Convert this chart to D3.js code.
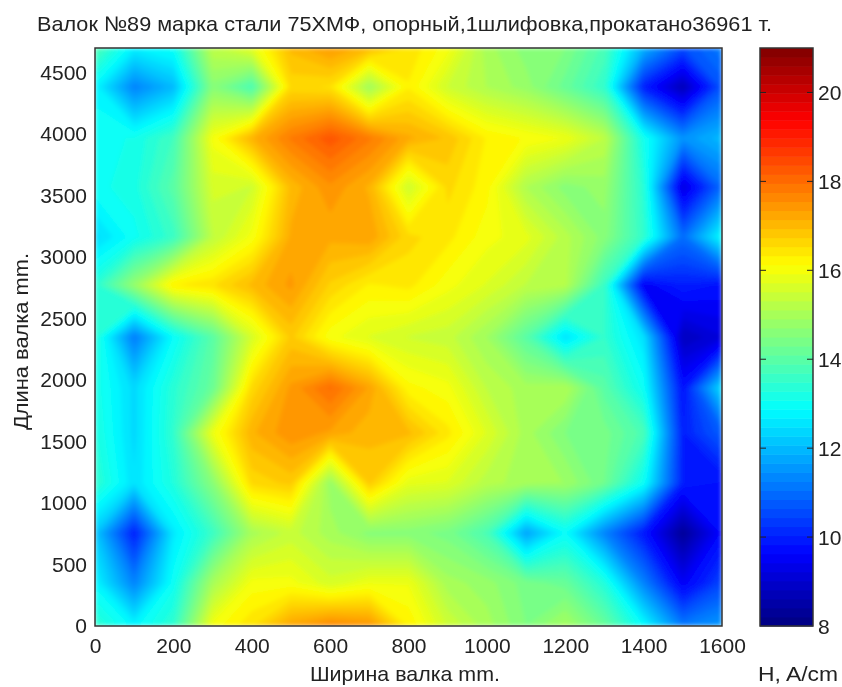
<!DOCTYPE html>
<html>
<head>
<meta charset="utf-8">
<script src="https://cdn.jsdelivr.net/npm/d3@7"></script>
<style>
  body { margin: 0; background: #fff; }
  svg { display: block; filter: blur(0.4px); }
  text { font-family: "Liberation Sans", Arial, sans-serif; fill: #222; }
</style>
</head>
<body>
<div id="chart-area"><svg></svg></div>
<script>
const chartSize = { width: 842, height: 687 };
const plot = { left: 95, right: 722, top: 48, bottom: 626 };
const bar = { left: 760, right: 813 };
const fontSize = 21;

const titleText = 'Валок №89 марка стали 75ХМФ, опорный,1шлифовка,прокатано36961 т.';
const xLabel = 'Ширина валка mm.';
const yLabel = 'Длина валка mm.';
const barLabel = 'H, A/cm';

const widths = [0, 100, 200, 300, 400, 500, 600, 700, 800, 900, 1000, 1100, 1200, 1300, 1400, 1500, 1600];
const lengths = [0, 350, 756, 1163, 1569, 1935, 2350, 2772, 3163, 3570, 3967, 4382, 4700];
const xTicks = [0, 200, 400, 600, 800, 1000, 1200, 1400, 1600];
const yTicks = [0, 500, 1000, 1500, 2000, 2500, 3000, 3500, 4000, 4500];
const barTicks = [8, 10, 12, 14, 16, 18, 20];

// H values, one row per length, bottom row first
const row0 = [13.5, 12.8, 13.5, 16, 16.5, 17.3, 17.7, 17.5, 16.3, 15.5, 15, 14.5, 15, 14.2, 12.9, 11.2, 11.6];
const row1 = [12.8, 11.3, 13, 15, 16, 16, 15.6, 15.9, 15.9, 15, 14.8, 14.4, 14.2, 13.3, 11.3, 9.5, 10.5];
const row2 = [12.2, 10, 12.6, 13.6, 15, 15.4, 15, 14.6, 14.6, 14.4, 13.8, 11.7, 12.9, 11.3, 9.9, 8.3, 9.7];
const row3 = [13.5, 12.5, 13.3, 14.6, 16.6, 16.8, 14.8, 16.8, 15.8, 15.7, 15.2, 15, 14.9, 14.3, 13, 10, 9.8];
const row4 = [13.3, 12.4, 13.5, 15.9, 17.1, 17.5, 17.3, 17, 17, 16.4, 15.7, 15, 14.5, 14.4, 13.8, 10, 10.8];
const row5 = [13.2, 12.4, 13.4, 14.2, 16.6, 17.4, 18, 17.3, 16.2, 16, 15.3, 15, 15.1, 14, 13, 9.8, 12.5];
const row6 = [13.4, 11.2, 12.9, 14, 15.6, 16.8, 16, 15.7, 15.5, 15.4, 14.9, 14, 12.5, 13.5, 12.5, 8.8, 9.2];
const row7 = [13.4, 14.8, 16.3, 16.5, 17, 17.4, 16.7, 16.3, 16.4, 16, 15.7, 15.3, 15.2, 13.6, 9.5, 10, 9.8];
const row8 = [12.4, 13, 13.6, 15.3, 16, 17.2, 17.2, 17.3, 16.6, 16.4, 16, 15.8, 15.2, 14.6, 13.5, 11, 12.9];
const row9 = [13, 13.2, 14, 15.6, 15.5, 17, 17.5, 17.1, 15.5, 16.6, 16.2, 15.1, 14.6, 14.8, 13.4, 9.2, 11];
const row10 = [13, 13.1, 13.7, 16, 17.1, 17.8, 18.3, 17.8, 17.2, 16.9, 16.3, 16.1, 15.9, 15.3, 13.1, 11.5, 12];
const row11 = [12.8, 11.3, 12, 14.6, 13.8, 16.6, 16.5, 14.9, 16.3, 15.5, 15.1, 14.8, 14.2, 13.5, 10, 8.7, 10.7];
const row12 = [13.9, 12.7, 13, 15.3, 15.8, 17, 17.4, 17, 16.5, 16, 15, 14.6, 14.5, 13.8, 11.9, 10.6, 11.2];
const rows = [row0, row1, row2, row3, row4, row5, row6, row7, row8, row9, row10, row11, row12];

const hMin = 8;
const hMax = 21;
const levelCount = 64;

// matlab jet, 64 steps
const jet = (i) => {
  const t = (i + 0.5) / levelCount;
  const ramp = (c) => Math.max(0, Math.min(1, 1.5 - Math.abs(4 * t - c)));
  return d3.rgb(255 * ramp(3), 255 * ramp(2), 255 * ramp(1)).formatHex();
};

const drawHeatmap = (svg, x, y) => {
  const levels = d3.range(levelCount);
  const thresholds = levels.map(i => hMin + i * (hMax - hMin) / levelCount);
  const contours = d3.contours()
    .size([widths.length, lengths.length])
    .thresholds(thresholds)(rows.flat());

  // contour coords are cell centred, so shift by half and clamp to the grid
  const colToWidth = d3.scaleLinear().domain(d3.range(widths.length)).range(widths).clamp(true);
  const rowToLength = d3.scaleLinear().domain(d3.range(lengths.length)).range(lengths).clamp(true);
  const path = d3.geoPath(d3.geoTransform({
    point(cx, cy) {
      this.stream.point(x(colToWidth(cx - 0.5)), y(rowToLength(cy - 0.5)));
    }
  }));

  // soften the bands a bit, the original is a rescaled bitmap
  const filter = svg.append('defs').append('filter')
    .attr('id', 'soften')
    .attr('filterUnits', 'userSpaceOnUse')
    .attr('x', plot.left).attr('y', plot.top)
    .attr('width', plot.right - plot.left).attr('height', plot.bottom - plot.top);
  filter.append('feGaussianBlur').attr('stdDeviation', 2).attr('edgeMode', 'duplicate');

  svg.append('g').attr('filter', 'url(#soften)')
    .selectAll('path').data(contours).join('path')
    .attr('d', path)
    .attr('fill', (c, i) => jet(i));
};

const drawColorbar = (svg, barY) => {
  const levels = d3.range(levelCount);
  svg.append('g').selectAll('rect').data(levels).join('rect')
    .attr('x', bar.left)
    .attr('width', bar.right - bar.left)
    .attr('y', i => barY(hMin + (i + 1) * (hMax - hMin) / levelCount))
    .attr('height', barY(hMin) - barY(hMin + (hMax - hMin) / levelCount) + 0.5)
    .attr('fill', i => jet(i));

  svg.append('rect')
    .attr('x', bar.left).attr('y', plot.top)
    .attr('width', bar.right - bar.left).attr('height', plot.bottom - plot.top)
    .attr('fill', 'none').attr('stroke', '#333').attr('stroke-width', 1.5);

  const g = svg.append('g');
  g.selectAll('.l').data(barTicks.slice(1)).join('line')
    .attr('x1', bar.left).attr('x2', bar.left + 6)
    .attr('y1', barY).attr('y2', barY).attr('stroke', '#222');
  g.selectAll('.r').data(barTicks.slice(1)).join('line')
    .attr('x1', bar.right - 6).attr('x2', bar.right)
    .attr('y1', barY).attr('y2', barY).attr('stroke', '#222');
  g.selectAll('text').data(barTicks).join('text')
    .attr('x', bar.right + 5)
    .attr('y', barY)
    .attr('dy', '0.36em')
    .attr('font-size', fontSize)
    .text(d => d);
};

const drawFrame = (svg, x, y) => {
  svg.append('rect')
    .attr('x', plot.left).attr('y', plot.top)
    .attr('width', plot.right - plot.left).attr('height', plot.bottom - plot.top)
    .attr('fill', 'none').attr('stroke', '#333').attr('stroke-width', 1.5);

  // ticks sit under the filled contours in the original, only labels show
  const bottom = d3.axisBottom(x).tickValues(xTicks).tickSize(0).tickPadding(12).tickFormat(d3.format('d'));
  const left = d3.axisLeft(y).tickValues(yTicks).tickSize(0).tickPadding(8).tickFormat(d3.format('d'));

  [[bottom, 0, plot.bottom], [left, plot.left, 0]].forEach(([axis, tx, ty]) => {
    const g = svg.append('g').attr('transform', `translate(${tx},${ty})`).call(axis);
    g.select('.domain').remove();
    g.selectAll('text').attr('font-size', fontSize).attr('font-family', null);
  });
};

const main = () => {
  const svg = d3.select('#chart-area svg')
    .attr('width', chartSize.width)
    .attr('height', chartSize.height);

  const x = d3.scaleLinear().domain([0, 1600]).range([plot.left, plot.right]);
  const y = d3.scaleLinear().domain([0, 4700]).range([plot.bottom, plot.top]);
  const barY = d3.scaleLinear().domain([hMin, hMax]).range([plot.bottom, plot.top]);

  drawHeatmap(svg, x, y);
  drawFrame(svg, x, y);
  drawColorbar(svg, barY);

  svg.append('text').attr('x', 37).attr('y', 31)
    .attr('font-size', fontSize)
    .attr('textLength', 735).attr('lengthAdjust', 'spacingAndGlyphs').text(titleText);
  svg.append('text').attr('x', 310).attr('y', 681)
    .attr('font-size', fontSize)
    .attr('textLength', 190).attr('lengthAdjust', 'spacingAndGlyphs').text(xLabel);
  svg.append('text').attr('transform', 'translate(28,430) rotate(-90)')
    .attr('font-size', fontSize)
    .attr('textLength', 177).attr('lengthAdjust', 'spacingAndGlyphs').text(yLabel);
  svg.append('text').attr('x', 758).attr('y', 681)
    .attr('font-size', 20)
    .attr('textLength', 80).attr('lengthAdjust', 'spacingAndGlyphs').text(barLabel);
};

window.onload = main;
</script>
</body>
</html>
